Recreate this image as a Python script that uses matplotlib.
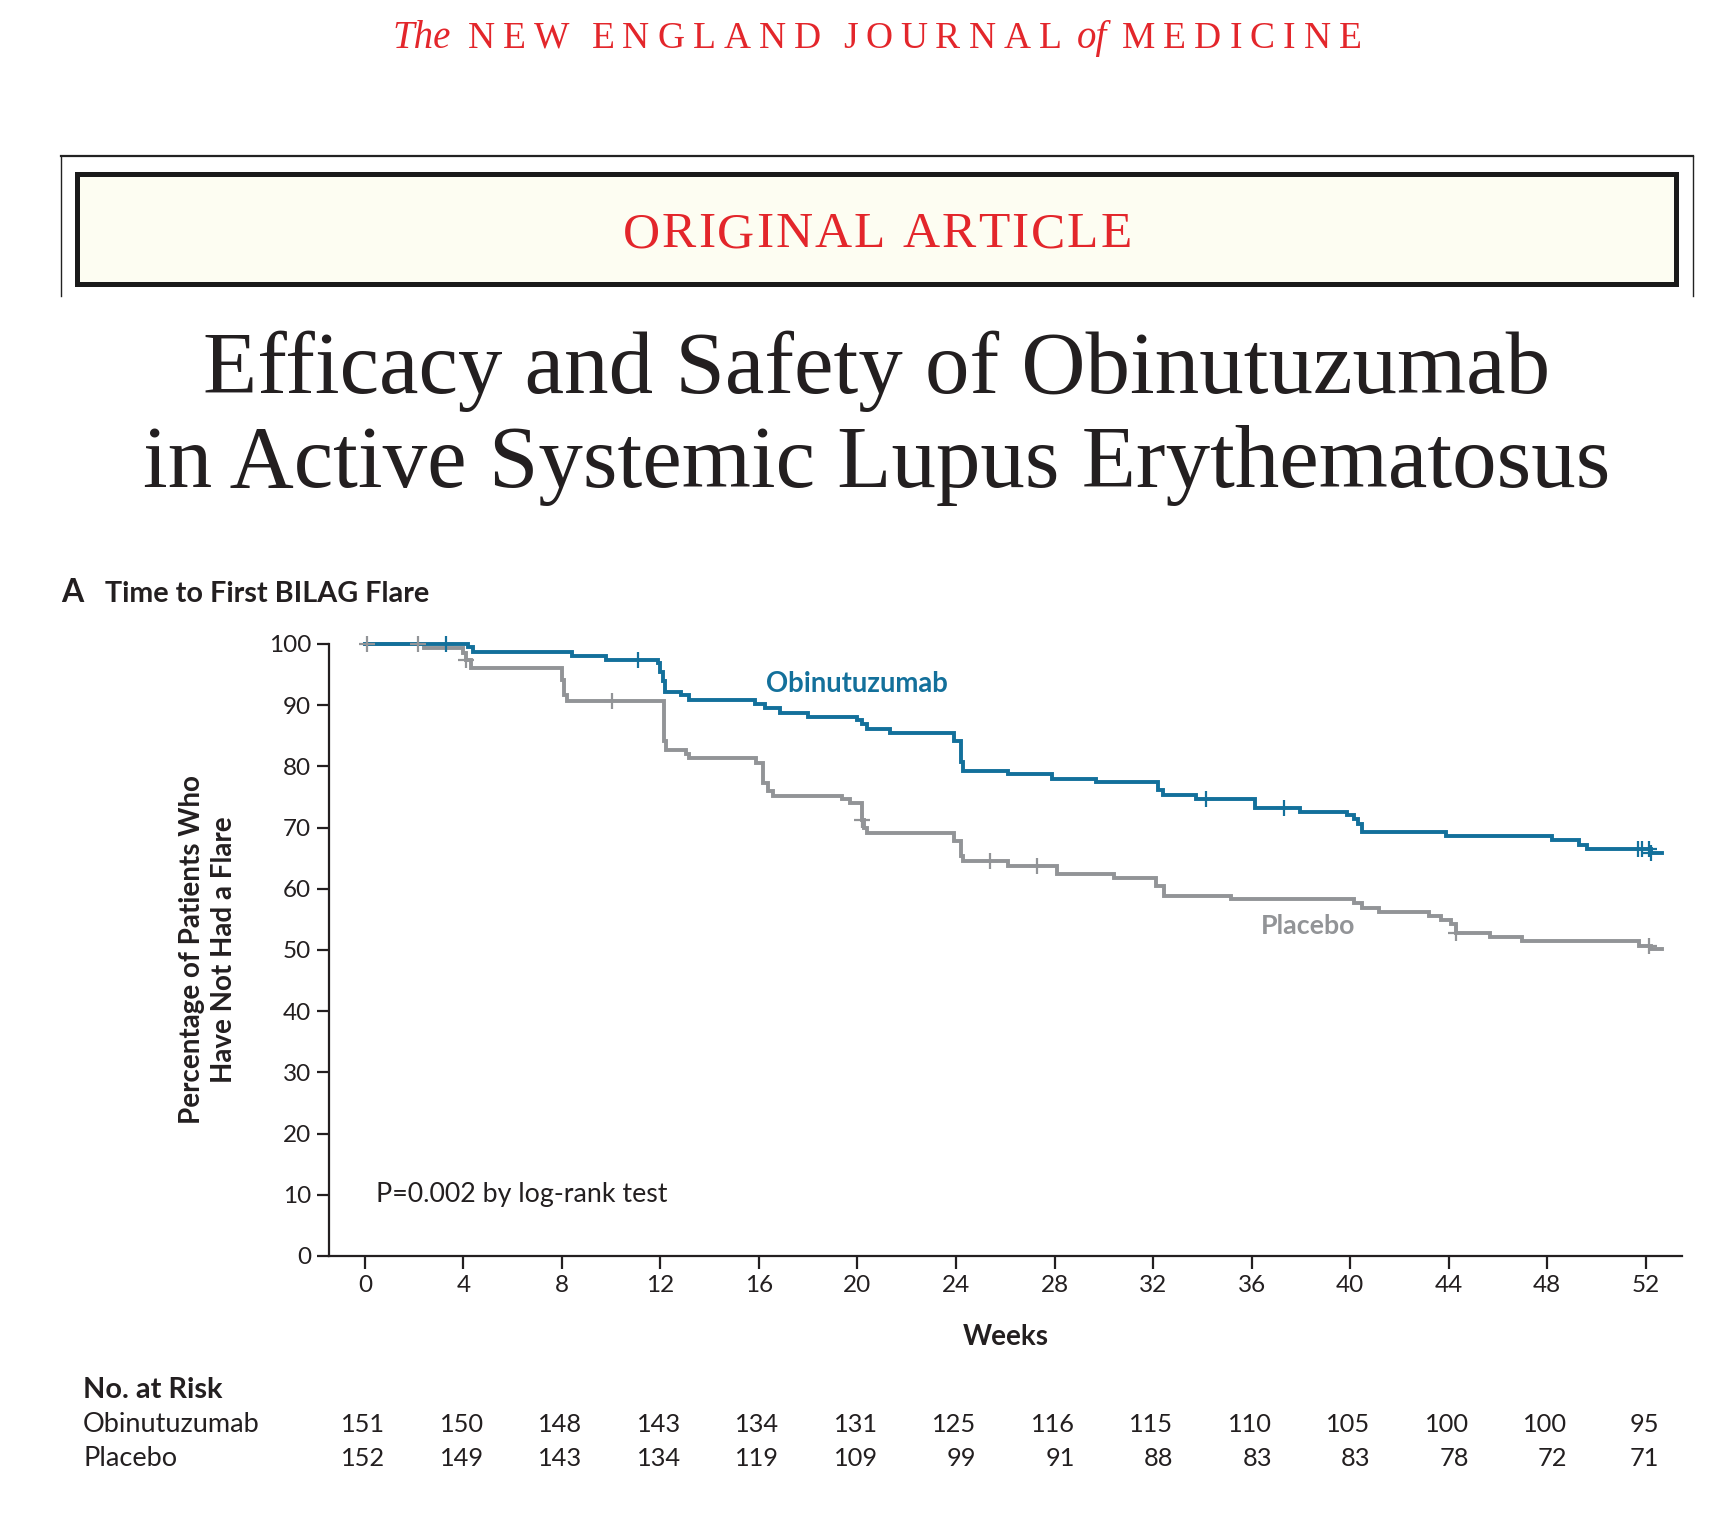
import matplotlib
matplotlib.use("Agg")
import matplotlib.pyplot as plt
from matplotlib.patches import Rectangle
from matplotlib.lines import Line2D
from matplotlib.font_manager import FontProperties
import numpy as np

# ---------------- data ----------------
week_ticks = [0, 4, 8, 12, 16, 20, 24, 28, 32, 36, 40, 44, 48, 52]
pct_ticks = [0, 10, 20, 30, 40, 50, 60, 70, 80, 90, 100]

obi_times = [0, 4.2, 4.4, 8.4, 9.8, 11.9, 12.0, 12.1, 12.2, 12.85, 13.15, 15.85, 16.26,
             16.86, 17.97, 19.98, 20.18, 20.38, 21.3, 23.9, 24.2, 24.3, 26.1, 27.9, 29.7,
             32.2, 32.4, 33.75, 36.15, 37.97, 39.88, 40.18, 40.33, 40.48, 43.9, 48.22,
             49.3, 49.63, 52.24, 52.65]
obi_surv = [100, 99.5, 98.7, 98.0, 97.4, 96.9, 95.5, 94.0, 92.2, 91.6, 90.9, 90.2, 89.6,
            88.8, 88.1, 87.6, 86.9, 86.1, 85.5, 84.2, 80.8, 79.3, 78.7, 78.0, 77.4,
            76.2, 75.4, 74.7, 73.2, 72.5, 72.1, 71.4, 70.6, 69.3, 68.6, 67.9,
            67.2, 66.5, 65.9, 65.9]
obi_censor = [3.3, 11.1, 34.15, 37.3, 51.7, 51.84, 52.14, 52.24]

pla_times = [0, 2.4, 4.0, 4.1, 4.3, 8.0, 8.1, 8.2, 12.14, 12.24, 13.04, 13.15, 15.86,
             16.16, 16.36, 16.56, 19.38, 19.68, 20.18, 20.28, 20.38, 23.9, 24.2, 24.3,
             26.1, 28.12, 30.43, 32.14, 32.44, 35.16, 40.18, 40.48, 41.18, 43.2, 43.7,
             44.1, 44.3, 45.7, 47.0, 51.74, 52.24, 52.65]
pla_surv = [100, 99.3, 98.5, 97.4, 96.1, 94.1, 91.6, 90.7, 84.1, 82.7, 82.1, 81.4, 80.5,
            77.3, 75.9, 75.2, 74.6, 74.0, 71.3, 69.9, 69.1, 67.8, 65.3, 64.5,
            63.8, 62.5, 61.7, 60.4, 58.9, 58.3, 57.6, 56.9, 56.2, 55.5, 54.9,
            54.2, 52.8, 52.1, 51.4, 50.7, 50.2, 50.2]
pla_censor = [0.1, 2.15, 4.1, 10.03, 20.18, 25.4, 27.3, 44.3, 52.14]

risk_rows = ["Obinutuzumab", "Placebo"]
risk_obi = [151, 150, 148, 143, 134, 131, 125, 116, 115, 110, 105, 100, 100, 95]
risk_pla = [152, 149, 143, 134, 119, 109, 99, 91, 88, 83, 83, 78, 72, 71]

# ---------------- style ----------------
W, H, DPI = 1726, 1514, 100
BLUE = "#13709b"
GREY = "#929497"
RED = "#e3262b"
INK = "#231f20"
SANS = ["Lato", "DejaVu Sans"]
SERIF = ["Liberation Serif", "DejaVu Serif"]

plt.rcParams["font.family"] = SANS

fig = plt.figure(figsize=(W / DPI, H / DPI), dpi=DPI)
fig.patch.set_facecolor("white")


def fx(x):
    return x / W


def fy(y):
    return 1 - y / H


renderer = fig.canvas.get_renderer()


def ink_width(s, fp):
    w, h, d = renderer.get_text_width_height_descent(s, fp, ismath=False)
    return w


def tracked_text(xc, yb, runs, color):
    """runs: list of (text, FontProperties, tracking_px, gap_after_px)"""
    items = []
    total = 0
    for text, fp, track, gap in runs:
        if track is None:
            w = ink_width(text, fp)
            items.append((text, fp, total))
            total += w + gap
        else:
            for i, ch in enumerate(text):
                w = ink_width(ch, fp)
                items.append((ch, fp, total))
                total += w + (track if i < len(text) - 1 else 0)
            total += gap
    x0 = xc - total / 2
    for ch, fp, off in items:
        fig.text(fx(x0 + off), fy(yb), ch, fontproperties=fp, color=color,
                 ha="left", va="baseline")


# ---------------- header ----------------
fp_it = FontProperties(family=SERIF, size=28, style="italic")
fp_cap = FontProperties(family=SERIF, size=27)
tr = 8
tracked_text(877, 48, [
    ("The", fp_it, None, 17),
    ("NEW", fp_cap, tr, 22),
    ("ENGLAND", fp_cap, tr, 22),
    ("JOURNAL", fp_cap, tr, 15),
    ("of", fp_it, None, 15),
    ("MEDICINE", fp_cap, tr, 0),
], RED)

# outer open frame
fig.add_artist(Line2D([fx(61), fx(1693)], [fy(156), fy(156)], color="#222222", lw=1.6))
fig.add_artist(Line2D([fx(61), fx(61)], [fy(156), fy(296)], color="#222222", lw=1.0))
fig.add_artist(Line2D([fx(1693), fx(1693)], [fy(156), fy(296)], color="#222222", lw=1.0))
# inner box
fig.add_artist(Rectangle((fx(77), fy(284)), fx(1676) - fx(77), fy(174) - fy(284),
                         facecolor="#fdfdf2", edgecolor="#1a1a1a", lw=3.6))
tracked_text(877, 247, [("ORIGINAL", FontProperties(family=SERIF, size=37), 2, 18),
                        ("ARTICLE", FontProperties(family=SERIF, size=37), 2, 0)], RED)

# title
fig.text(fx(877), fy(393), "Efficacy and Safety of Obinutuzumab", fontfamily=SERIF,
         fontsize=64, color=INK, ha="center", va="baseline")
fig.text(fx(877), fy(487), "in Active Systemic Lupus Erythematosus", fontfamily=SERIF,
         fontsize=64, color=INK, ha="center", va="baseline")

# panel title
fig.text(fx(61), fy(602), "A", fontsize=23, fontweight="bold", color=INK, ha="left", va="baseline")
fig.text(fx(105), fy(602), "Time to First BILAG Flare", fontsize=20.7, fontweight="bold",
         color=INK, ha="left", va="baseline")

# ---------------- axes ----------------
AX_L, AX_R, AX_T, AX_B = 329, 1682, 644, 1256
ax = fig.add_axes([fx(AX_L), fy(AX_B), fx(AX_R) - fx(AX_L), fy(AX_T) - fy(AX_B)])
x_left = -1.46
x_right = 53.48
ax.set_xlim(x_left, x_right)
ax.set_ylim(0, 100)
ax.patch.set_alpha(0)
for s in ["top", "right"]:
    ax.spines[s].set_visible(False)
for s in ["left", "bottom"]:
    ax.spines[s].set_linewidth(1.6)
    ax.spines[s].set_color(INK)

ax.set_xticks(week_ticks)
ax.set_yticks(pct_ticks)
ax.tick_params(axis="both", direction="out", length=9, width=1.6, color=INK,
               labelsize=17.5, labelcolor=INK)
ax.tick_params(axis="x", pad=5)
ax.tick_params(axis="y", pad=4)

ax.step(obi_times, obi_surv, where="post", color=BLUE, lw=2.8, clip_on=False, zorder=3,
        solid_joinstyle="miter")
ax.step(pla_times, pla_surv, where="post", color=GREY, lw=2.8, clip_on=False, zorder=2,
        solid_joinstyle="miter")


def level_at(times, surv, t):
    i = np.searchsorted(np.asarray(times), t, side="right") - 1
    return surv[max(i, 0)]


ax.plot(obi_censor, [level_at(obi_times, obi_surv, t) for t in obi_censor], ls="none",
        marker="+", ms=11, mew=1.6, color=BLUE, clip_on=False, zorder=4)
ax.plot(pla_censor, [level_at(pla_times, pla_surv, t) for t in pla_censor], ls="none",
        marker="+", ms=11, mew=1.6, color=GREY, clip_on=False, zorder=3)

ax.text(16.3, 93.4, "Obinutuzumab", color=BLUE, fontsize=19.8, fontweight="bold",
        ha="left", va="center")
ax.text(36.4, 54.0, "Placebo", color=GREY, fontsize=19.3, fontweight="bold",
        ha="left", va="center")
ax.text(0.45, 10, "P=0.002 by log-rank test", color=INK, fontsize=19.3, ha="left", va="center")

ax.set_xlabel("Weeks", fontsize=20, fontweight="bold", color=INK, labelpad=20)
fig.text(fx(208), fy((AX_T + AX_B) / 2), "Percentage of Patients Who\nHave Not Had a Flare",
         rotation=90, fontsize=20, fontweight="bold", color=INK, ha="center", va="center",
         linespacing=1.25)

# ---------------- number at risk ----------------
fig.text(fx(83), fy(1390), "No. at Risk", fontsize=20.8, fontweight="bold", color=INK,
         ha="left", va="center")
row_y = [1424, 1458]
for name, yy in zip(risk_rows, row_y):
    fig.text(fx(83), fy(yy), name, fontsize=19.5, color=INK, ha="left", va="center")

data_to_px = (AX_R - AX_L) / (x_right - x_left)
for j, wk in enumerate(week_ticks):
    ndig = max(len(str(risk_obi[j])), len(str(risk_pla[j])))
    off_px = 6.8 * ndig
    xpx = AX_L + (wk - x_left) * data_to_px + off_px
    for vals, yy in zip([risk_obi, risk_pla], row_y):
        fig.text(fx(xpx), fy(yy), str(vals[j]), fontsize=18.3, color=INK, ha="right", va="center")

fig.savefig("out.png", dpi=DPI, facecolor="white")
